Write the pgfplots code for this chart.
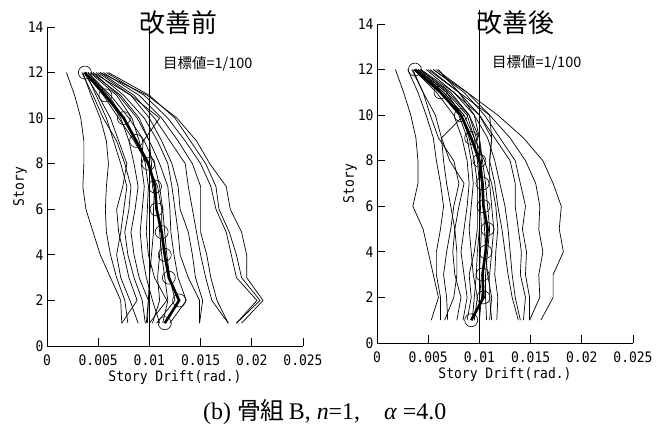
\documentclass[border=0pt]{standalone}
\usepackage{pgfplots}
\pgfplotsset{compat=1.18}
\usepackage{pgfplotstable}
\usepackage{fontspec}
\setmainfont{Liberation Serif}
\newfontfamily\jpfont{Noto Sans CJK JP}
\newfontfamily\gothic[FakeStretch=0.9]{DejaVu Sans Mono}

% Story drift profiles, one row per record (stories 1..12), last row = mean
\pgfplotstableread{
id   s1     s2     s3     s4     s5     s6     s7      s8     s9     s10    s11    s12
s    1      2      3      4      5      6      7       8      9      10     11     12
r1   0.0073 0.0072 0.0062 0.0052 0.0045 0.0038 0.0035  0.0036 0.0036 0.0033 0.0027 0.0019
r2   0.0079 0.0076 0.0068 0.0062 0.0058 0.0057 0.0058  0.0060 0.0058 0.0052 0.0043 0.0035
r3   0.0089 0.0081 0.0072 0.0068 0.0072 0.0075 0.0078  0.0072 0.0065 0.0058 0.0048 0.0038
r4   0.0073 0.0088 0.0080 0.0075 0.0070 0.0068 0.0074  0.0078 0.0070 0.0062 0.0050 0.0036
r5   0.0096 0.0093 0.0085 0.0079 0.0076 0.0080 0.0082  0.0076 0.0068 0.0055 0.0045 0.0034
r6   0.0098 0.0099 0.0090 0.0085 0.0082 0.0086 0.0089  0.0085 0.0080 0.0072 0.0058 0.0040
r7   0.0100 0.0117 0.0105 0.0099 0.0097 0.0098 0.0099  0.0096 0.0090 0.0083 0.0068 0.0042
r8   0.0110 0.0103 0.0097 0.0093 0.0091 0.0093 0.0095  0.0092 0.0094 0.0110 0.0082 0.0045
r9   0.0107 0.0125 0.0120 0.0117 0.0115 0.0113 0.0110  0.0105 0.0095 0.0080 0.0062 0.0040
r10  0.0120 0.0136 0.0128 0.0124 0.0121 0.0120 0.0118  0.0110 0.0100 0.0088 0.0070 0.0045
r11  0.0149 0.0149 0.0138 0.0130 0.0128 0.0125 0.0122  0.0118 0.0108 0.0095 0.0075 0.0048
r12  0.0149 0.0152 0.0145 0.0142 0.0138 0.0130 0.0128  0.0122 0.0112 0.0100 0.0082 0.0050
r13  0.0177 0.0161 0.0155 0.0150 0.0146 0.0142 0.0138  0.0135 0.0120 0.0105 0.0085 0.0052
r14  0.0177 0.0166 0.0160 0.0156 0.0150 0.0150 0.0150  0.0142 0.0128 0.0112 0.0090 0.0055
r15  0.0185 0.0205 0.0185 0.0180 0.0175 0.0165 0.0160  0.0150 0.0135 0.0118 0.0095 0.0058
r16  0.0185 0.0208 0.0190 0.0185 0.0178 0.0168 0.0165  0.0155 0.0140 0.0125 0.0100 0.0060
r17  0.0190 0.0211 0.0195 0.0195 0.0190 0.0179 0.0175  0.0159 0.0146 0.0127 0.0098 0.0052
r18  0.0097 0.0099 0.0100 0.0102 0.0104 0.0104 0.0105  0.0100 0.0088 0.0075 0.0060 0.0040
r19  0.0103 0.0110 0.0108 0.0110 0.0112 0.0112 0.0108  0.0098 0.0085 0.0070 0.0055 0.0037
r20  0.0113 0.0118 0.0115 0.0112 0.0110 0.0108 0.0103  0.0102 0.0100 0.0090 0.0072 0.0043
mean 0.0115 0.0129 0.0119 0.0115 0.0112 0.0107 0.01055 0.0099 0.0087 0.0075 0.0057 0.0037
}\beforeraw
\pgfplotstabletranspose[colnames from=id]\before\beforeraw

\pgfplotstableread{
id   s1     s2     s3     s4     s5     s6     s7     s8     s9     s10    s11    s12
s    1      2      3      4      5      6      7      8      9      10     11     12
r1   0.0053 0.0060 0.0055 0.0050 0.0045 0.0035 0.0040 0.0040 0.0038 0.0033 0.0026 0.0018
r2   0.0062 0.0062 0.0058 0.0058 0.0062 0.0065 0.0062 0.0058 0.0055 0.0048 0.0040 0.0030
r3   0.0069 0.0068 0.0065 0.0068 0.0072 0.0075 0.0080 0.0075 0.0060 0.0052 0.0045 0.0035
r4   0.0066 0.0075 0.0078 0.0078 0.0076 0.0072 0.0068 0.0065 0.0063 0.0057 0.0045 0.0034
r5   0.0078 0.0082 0.0076 0.0074 0.0076 0.0080 0.0085 0.0071 0.0063 0.0085 0.0065 0.0038
r6   0.0084 0.0088 0.0085 0.0082 0.0085 0.0088 0.0090 0.0088 0.0083 0.0075 0.0058 0.0036
r7   0.0095 0.0098 0.0094 0.0092 0.0090 0.0092 0.0094 0.0092 0.0088 0.0080 0.0062 0.0038
r8   0.0100 0.0102 0.0100 0.0101 0.0102 0.0101 0.0100 0.0098 0.0095 0.0085 0.0065 0.0040
r9   0.0107 0.0106 0.0106 0.0108 0.0110 0.0108 0.0106 0.0103 0.0100 0.0090 0.0070 0.0042
r10  0.0112 0.0110 0.0110 0.0112 0.0114 0.0112 0.0110 0.0110 0.0112 0.0100 0.0075 0.0043
r11  0.0117 0.0118 0.0115 0.0116 0.0118 0.0116 0.0112 0.0105 0.0095 0.0088 0.0068 0.0040
r12  0.0138 0.0132 0.0128 0.0125 0.0122 0.0118 0.0115 0.0110 0.0112 0.0110 0.0080 0.0050
r13  0.0140 0.0135 0.0132 0.0130 0.0128 0.0125 0.0120 0.0115 0.0108 0.0095 0.0075 0.0048
r14  0.0143 0.0145 0.0140 0.0141 0.0138 0.0135 0.0135 0.0130 0.0115 0.0100 0.0080 0.0052
r15  0.0149 0.0149 0.0145 0.0146 0.0142 0.0145 0.0140 0.0135 0.0120 0.0105 0.0085 0.0055
r16  0.0149 0.0159 0.0158 0.0162 0.0158 0.0159 0.0155 0.0145 0.0130 0.0110 0.0088 0.0058
r17  0.0160 0.0172 0.0172 0.0182 0.0178 0.0180 0.0172 0.0162 0.0143 0.0118 0.0088 0.0055
r18  0.0093 0.0095 0.0097 0.0098 0.0100 0.0100 0.0102 0.0100 0.0097 0.0090 0.0072 0.0042
r19  0.0088 0.0092 0.0090 0.0095 0.0098 0.0098 0.0098 0.0095 0.0090 0.0082 0.0068 0.0040
r20  0.0110 0.0112 0.0108 0.0106 0.0105 0.0104 0.0103 0.0102 0.0100 0.0095 0.0080 0.0060
mean 0.0092 0.0104 0.0103 0.0106 0.0108 0.0104 0.0103 0.0100 0.0092 0.0082 0.0062 0.0037
}\afterraw
\pgfplotstabletranspose[colnames from=id]\after\afterraw

\pgfplotsset{
  drift/.style={
    scale only axis, width=256bp, height=319bp,
    xmin=0, xmax=0.025, ymin=0, ymax=14,
    axis x line*=bottom, axis y line*=left,
    axis line style={-, line width=0.8bp},
    tick align=inside, major tick length=8bp,
    tick style={line width=0.8bp, black},
    xtick={0,0.005,0.01,0.015,0.02,0.025},
    xticklabels={0,0.005,0.01,0.015,0.02,0.025},
    scaled x ticks=false,
    ytick={0,2,...,14},
    /pgf/number format/assume math mode=true,
    tick label style={font=\gothic\fontsize{14.5}{16}\selectfont},
    xticklabel style={yshift=-5bp},
    label style={font=\gothic\fontsize{14.5}{16}\selectfont},
    xlabel={Story Drift(rad.)},
    ylabel={Story},
    xlabel style={at={(axis description cs:0.5,0)}, anchor=center, yshift=-32bp},
    ylabel style={at={(axis description cs:-0.105,0.5)}, anchor=center},
    clip=false,
  },
  record/.style={black, line width=0.7bp, no marks},
  mean/.style={black, line width=2.6bp, mark=o, mark size=6.5bp,
    mark options={line width=0.6bp, solid}},
  target/.style={black, line width=0.8bp, no marks},
}

\begin{document}
\begin{tikzpicture}
\useasboundingbox (0,0) rectangle (670bp,424bp);

% before improvement
\begin{axis}[drift, at={(47bp,78bp)}, anchor=south west]
  \pgfplotsinvokeforeach{1,...,20}{
    \addplot[record] table[x=r#1, y=s] {\before};
  }
  \addplot[mean] table[x=mean, y=s] {\before};
  \addplot[target] coordinates {(0.01,0) (0.01,13.9)};
  \node[font=\jpfont\fontsize{26}{28}\selectfont] at (axis cs:0.0128,14.2) {改善前};
  \node[font=\jpfont\fontsize{14.5}{16}\selectfont] at (axis cs:0.0157,12.4) {目標値=1/100};
\end{axis}

% after improvement
\begin{axis}[drift, at={(377bp,81bp)}, anchor=south west]
  \pgfplotsinvokeforeach{1,...,20}{
    \addplot[record] table[x=r#1, y=s] {\after};
  }
  \addplot[mean] table[x=mean, y=s] {\after};
  \addplot[target] coordinates {(0.01,0) (0.01,14.6)};
  \node[font=\jpfont\fontsize{26}{28}\selectfont] at (axis cs:0.0135,14.05) {改善後};
  \node[font=\jpfont\fontsize{14.5}{16}\selectfont] at (axis cs:0.0156,12.3) {目標値=1/100};
\end{axis}

\node[font=\fontsize{24}{26}\selectfont, anchor=west, inner sep=0pt] at (203bp,12bp)
  {(b) {\jpfont 骨組}\,B, \textit{n}=1,\quad\textit{α} =4.0};
\end{tikzpicture}
\end{document}
